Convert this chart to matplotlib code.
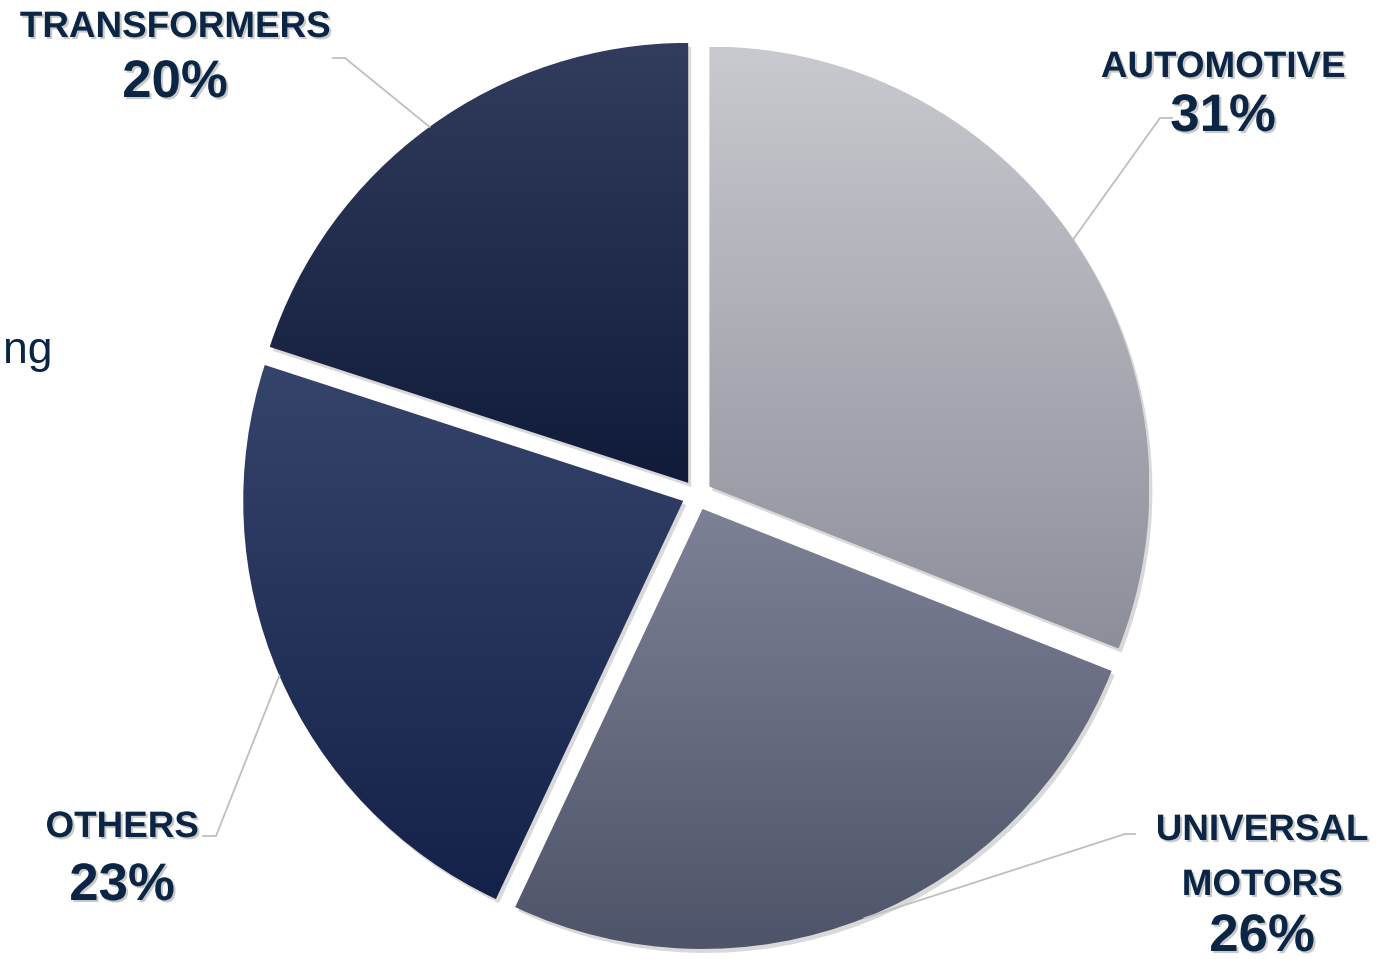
import matplotlib
matplotlib.use('Agg')
import matplotlib.pyplot as plt
import matplotlib.patheffects as pe
from matplotlib.patches import Wedge
import numpy as np

plt.rcParams['font.family'] = ['Liberation Sans', 'DejaVu Sans']

# Data (clockwise from 12 o'clock)
names = ['AUTOMOTIVE', 'UNIVERSAL\nMOTORS', 'OTHERS', 'TRANSFORMERS']
values = [31, 26, 23, 20]

# gradient colours per slice (top, bottom)
grad_top = ['#c9cacf', '#7d8195', '#36436b', '#323d5e']
grad_bot = ['#8c8e9a', '#4e5469', '#142249', '#101b3a']

text_col = '#0b2545'
line_col = '#bfbfbf'

# layout in pixels (y down): name centre x, last name line baseline, pct baseline, leader elbow, leader end
name_x = [1223, 1262, 122, 175]
name_base = [77, 895, 837, 37]
pct_base = [131, 951, 900, 97]
elbow = [(1160, 118), (1125, 834), (216, 836), (345, 58)]
lead_end = [(1172, 118), (1135, 834), (203, 836), (333, 58)]

W, H = 1398, 959
fig = plt.figure(figsize=(W / 100, H / 100), dpi=100)
ax = fig.add_axes([0, 0, 1, 1])

center = (697, 495)
radius = 440

# y axis is flipped below, so counterclock in data = clockwise on screen
# explode is in data units (pixels here)
wedges, _ = ax.pie(values, center=center, radius=radius, startangle=-90,
                   counterclock=True, explode=[15] * len(values),
                   wedgeprops=dict(facecolor='none', edgecolor='none'))


def hex2rgb(h):
    h = h.lstrip('#')
    return np.array([int(h[i:i + 2], 16) / 255 for i in (0, 2, 4)])


for i, w in enumerate(wedges):
    # soft shadow
    sh = Wedge((w.center[0] + 3, w.center[1] + 4), w.r, w.theta1, w.theta2,
               facecolor='black', alpha=0.15, edgecolor='none', zorder=1)
    ax.add_patch(sh)
    bb = w.get_path().get_extents()
    t = np.linspace(0, 1, 256)[:, None, None]
    img = hex2rgb(grad_top[i]) * (1 - t) + hex2rgb(grad_bot[i]) * t
    img = np.repeat(img, 2, axis=1)
    im = ax.imshow(img, extent=(bb.x0, bb.x1, bb.y1, bb.y0), origin='upper',
                   aspect='auto', interpolation='bilinear', zorder=2)
    im.set_clip_path(w)

    # leader line from arc mid point
    mid = np.deg2rad((w.theta1 + w.theta2) / 2)
    ax_pt = (w.center[0] + w.r * np.cos(mid), w.center[1] + w.r * np.sin(mid))
    ax.plot([ax_pt[0], elbow[i][0], lead_end[i][0]],
            [ax_pt[1], elbow[i][1], lead_end[i][1]],
            color=line_col, lw=1.3, zorder=3)

shadow = [pe.withSimplePatchShadow(offset=(1.5, -1.5), shadow_rgbFace='#7a7a7a', alpha=0.4)]

for i, nm in enumerate(names):
    lines = nm.split('\n')
    for j, ln in enumerate(lines):
        yb = name_base[i] - (len(lines) - 1 - j) * 55
        ax.text(name_x[i], yb, ln, ha='center', va='baseline', fontsize=26.5,
                fontweight='bold', color=text_col, path_effects=shadow, zorder=4)
    ax.text(name_x[i], pct_base[i], f'{values[i]}%', ha='center', va='baseline',
            fontsize=38, fontweight='bold', color=text_col, path_effects=shadow, zorder=4)

# cut-off text at the left edge
ax.text(53, 363, 'ng', ha='right', va='baseline', fontsize=32, color=text_col)

ax.set_xlim(0, W)
ax.set_ylim(H, 0)
ax.set_aspect('auto')
ax.axis('off')

plt.savefig('out.png', dpi=100)
